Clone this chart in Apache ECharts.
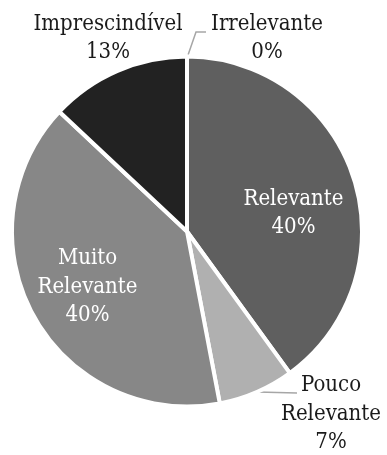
<!DOCTYPE html>
<html><head><meta charset="utf-8">
<script src="https://cdn.jsdelivr.net/npm/echarts@6/dist/echarts.min.js"></script>
<style>html,body{margin:0;padding:0;background:#fff}#c{width:387px;height:455px}</style>
</head><body><div id="c"></div>
<script>
const categories = ['Irrelevante', 'Relevante', 'Pouco\nRelevante', 'Muito\nRelevante', 'Imprescindível'];
const values = [0, 40, 7, 40, 13];
const colors = ['#b0b0b0', '#5f5f5f', '#b0b0b0', '#878787', '#222222'];

const FONT = '"DejaVu Serif Condensed", "DejaVu Serif", serif';
const labelPos = [
  {x: 267, y: 38.5, line: [[187, 58], [196, 32], [206, 32]]},
  {x: 293.5, y: 213.5},
  {x: 331, y: 414, line: [[257, 392], [277, 392.5], [297, 393]]},
  {x: 87.5, y: 287},
  {x: 108, y: 38.5}
];
const inside = [false, true, false, true, false];

const chart = echarts.init(document.getElementById('c'), null, {renderer: 'canvas'});
chart.setOption({
  animation: false,
  series: [{
    type: 'pie',
    center: [187, 231.5],
    radius: 175,
    startAngle: 90,
    clockwise: true,
    avoidLabelOverlap: false,
    itemStyle: {borderColor: '#ffffff', borderWidth: 4},
    label: {
      show: true,
      fontFamily: FONT,
      fontSize: 22,
      lineHeight: 28.5,
      color: '#1a1a1a',
      formatter: p => p.name + '\n' + Math.round(p.value) + '%'
    },
    labelLine: {show: true, lineStyle: {color: '#a6a6a6', width: 1.5}, smooth: false},
    labelLayout: function (p) {
      const L = labelPos[p.dataIndex];
      const o = {x: L.x, y: L.y, align: 'center', verticalAlign: 'middle'};
      if (L.line) o.labelLinePoints = L.line;
      return o;
    },
    data: categories.map((c, i) => ({
      name: c,
      value: values[i],
      itemStyle: {color: colors[i]},
      label: inside[i] ? {color: '#ffffff'} : {},
      labelLine: {show: !!labelPos[i].line}
    }))
  }]
});
</script></body></html>
